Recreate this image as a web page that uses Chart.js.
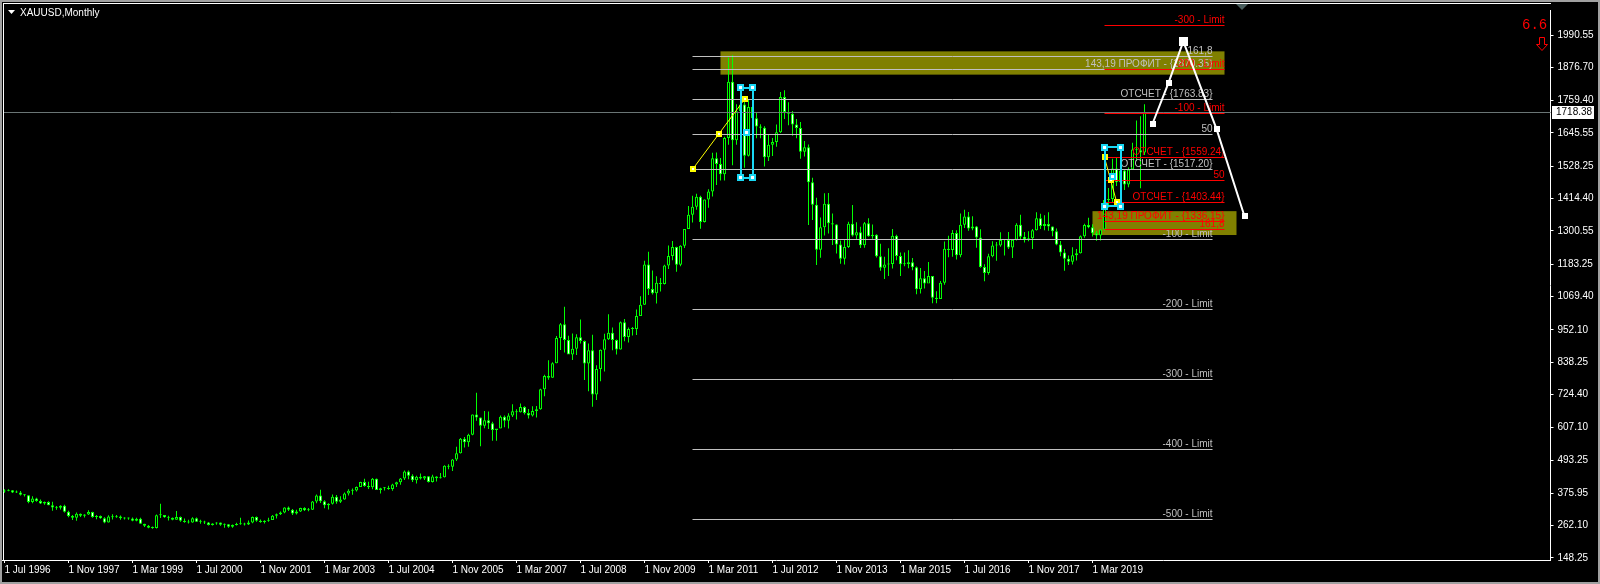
<!DOCTYPE html>
<html>
<head>
<meta charset="utf-8">
<title>XAUUSD,Monthly</title>
<script src="https://cdn.jsdelivr.net/npm/chart.js@4.4.1/dist/chart.umd.min.js"></script>
<style>
  html, body { margin: 0; padding: 0; background: #000; }
  #wrap { width: 1600px; height: 584px; }
</style>
</head>
<body>
<div id="wrap"><canvas id="chart" width="1600" height="584"></canvas></div>
<script>
// ===== monthly XAUUSD, Jul 1996 .. Apr 2020
const opens = [
  382,385,387,379,379,371,
  369,345,358,349,340,345,334,326,325,332,311,296,
  290,304,297,301,310,293,296,288,273,294,292,294,
  288,287,287,279,286,269,262,255,254,299,300,292,
  290,283,293,279,275,273,288,276,277,273,264,270,
  273,265,267,258,264,267,270,266,273,293,279,275,
  279,282,297,302,308,326,318,305,312,324,316,318,
  347,368,348,334,339,364,346,354,375,385,386,398,
  416,402,397,427,388,394,395,391,407,415,428,453,
  438,422,434,428,436,416,435,429,433,473,470,495,
  517,568,556,582,654,643,614,633,623,599,604,646,
  632,650,665,662,680,659,650,666,672,743,789,783,
  834,923,972,916,865,885,926,913,833,880,724,814,
  882,919,942,916,883,979,927,955,955,1001,1040,1182,
  1096,1081,1118,1113,1179,1212,1244,1181,1248,1307,1357,1386,
  1421,1332,1411,1439,1556,1536,1500,1628,1826,1620,1722,1746,
  1565,1737,1697,1668,1664,1560,1604,1614,1648,1772,1719,1713,
  1675,1663,1579,1595,1472,1393,1234,1313,1396,1327,1323,1253,
  1202,1244,1326,1284,1296,1250,1327,1282,1287,1211,1171,1182,
  1184,1283,1212,1183,1184,1190,1172,1095,1134,1115,1142,1065,
  1061,1118,1238,1233,1293,1215,1322,1351,1309,1316,1277,1173,
  1152,1211,1249,1249,1268,1268,1242,1269,1322,1280,1271,1275,
  1303,1345,1318,1325,1316,1299,1253,1224,1202,1192,1215,1222,
  1282,1321,1313,1292,1284,1305,1409,1413,1520,1472,1513,1464,
  1517,1587,1585,1577
];
const highs = [
  390,390,388,386,384,373,
  369,366,360,354,347,348,346,331,334,336,315,300,
  308,305,302,316,311,300,298,292,299,302,300,298,
  292,291,291,290,290,269,264,259,301,339,300,297,
  291,314,294,287,283,292,291,283,279,275,271,274,
  273,270,268,266,272,290,272,280,294,294,284,281,
  290,300,305,312,327,330,321,318,325,327,324,349,
  372,389,352,341,372,370,366,379,390,393,400,417,
  427,417,430,428,396,398,403,410,417,430,456,456,
  443,438,446,437,436,441,436,448,475,478,497,540,
  571,574,586,654,730,643,666,664,628,602,650,650,
  658,690,672,692,683,673,683,684,744,794,845,838,
  930,976,1033,931,939,936,988,914,904,935,827,883,
  938,1007,960,918,981,990,960,962,1024,1070,1195,1227,
  1161,1141,1135,1181,1249,1265,1245,1250,1307,1388,1424,1431,
  1424,1411,1447,1576,1577,1557,1632,1911,1920,1747,1804,1763,
  1764,1791,1718,1676,1669,1640,1628,1675,1790,1796,1754,1723,
  1695,1684,1617,1605,1488,1417,1348,1433,1434,1362,1324,1267,
  1269,1333,1392,1331,1315,1332,1345,1323,1289,1255,1209,1239,
  1307,1287,1224,1224,1232,1205,1175,1170,1159,1191,1142,1088,
  1124,1263,1283,1304,1303,1362,1375,1367,1352,1318,1306,1183,
  1220,1264,1261,1296,1269,1297,1270,1327,1357,1297,1299,1307,
  1366,1361,1356,1366,1316,1309,1265,1237,1214,1243,1237,1284,
  1326,1347,1324,1300,1306,1439,1452,1555,1557,1517,1515,1524,
  1611,1689,1704,1747
];
const lows = [
  378,383,377,377,368,365,
  341,341,346,338,336,334,315,318,319,308,292,282,
  279,293,291,300,290,285,286,271,273,284,290,283,
  284,283,278,278,268,257,253,251,252,289,290,280,
  281,283,276,272,270,272,275,269,268,263,263,265,
  262,255,255,255,263,265,263,264,271,276,272,270,
  276,282,287,300,306,314,300,301,310,314,313,317,
  341,342,323,319,337,339,342,353,368,371,382,399,
  399,391,390,388,375,386,389,385,398,406,423,426,
  416,411,425,423,414,414,418,428,432,461,455,490,
  516,537,540,581,632,542,605,603,561,561,605,609,
  604,645,636,661,654,640,647,643,670,718,776,783,
  834,881,872,868,846,863,904,775,736,681,705,771,
  805,916,880,865,883,912,907,932,934,1002,1040,1075,
  1076,1045,1087,1112,1166,1197,1157,1176,1240,1315,1330,1375,
  1308,1330,1382,1422,1462,1478,1478,1604,1532,1604,1667,1523,
  1563,1688,1627,1627,1527,1547,1564,1597,1645,1695,1673,1636,
  1627,1555,1563,1321,1339,1180,1206,1284,1291,1251,1221,1185,
  1182,1240,1281,1268,1240,1241,1280,1273,1207,1160,1131,1142,
  1168,1197,1142,1176,1169,1162,1077,1080,1098,1137,1046,1046,
  1062,1111,1208,1209,1200,1208,1311,1301,1303,1241,1171,1123,
  1146,1208,1195,1245,1214,1237,1205,1267,1272,1260,1264,1237,
  1302,1307,1303,1301,1282,1250,1211,1160,1180,1182,1196,1221,
  1276,1310,1281,1266,1267,1301,1382,1400,1459,1459,1445,1454,
  1517,1547,1451,1568
];
const closes = [
  385,387,379,379,371,369,
  345,358,349,340,345,334,326,325,332,311,296,290,
  304,297,301,310,293,296,288,273,294,292,294,288,
  287,287,279,286,269,262,255,254,299,300,292,290,
  283,293,279,275,273,288,276,277,273,264,270,273,
  265,267,258,264,267,270,266,273,293,279,275,279,
  282,297,302,308,326,318,305,312,324,316,318,347,
  368,348,334,339,364,346,354,375,385,386,398,416,
  402,397,427,388,394,395,391,407,415,428,453,438,
  422,434,428,436,416,435,429,433,473,470,495,517,
  568,556,582,654,643,614,633,623,599,604,646,632,
  650,665,662,680,659,650,666,672,743,789,783,834,
  923,972,916,865,885,926,913,833,880,724,814,882,
  919,942,916,883,979,927,955,955,1001,1040,1182,1096,
  1081,1118,1113,1179,1212,1244,1181,1248,1307,1357,1386,1421,
  1332,1411,1439,1556,1536,1500,1628,1826,1620,1722,1746,1565,
  1737,1697,1668,1664,1560,1604,1614,1648,1772,1719,1713,1675,
  1663,1579,1595,1472,1393,1234,1313,1396,1327,1323,1253,1202,
  1244,1326,1284,1296,1250,1327,1282,1287,1211,1171,1182,1184,
  1283,1212,1183,1184,1190,1172,1095,1134,1115,1142,1065,1061,
  1118,1238,1233,1293,1215,1322,1351,1309,1316,1277,1173,1152,
  1211,1249,1249,1268,1268,1242,1269,1322,1280,1271,1275,1303,
  1345,1318,1325,1316,1299,1253,1224,1202,1192,1215,1222,1282,
  1321,1313,1292,1284,1305,1409,1413,1520,1472,1513,1464,1517,
  1587,1585,1577,1718.38
];

const tickLabels = ['1 Jul 1996','1 Nov 1997','1 Mar 1999','1 Jul 2000','1 Nov 2001','1 Mar 2003',
  '1 Jul 2004','1 Nov 2005','1 Mar 2007','1 Jul 2008','1 Nov 2009','1 Mar 2011','1 Jul 2012',
  '1 Nov 2013','1 Mar 2015','1 Jul 2016','1 Nov 2017','1 Mar 2019'];
const priceTicks = [1990.55,1876.70,1759.40,1645.55,1528.25,1414.40,1300.55,1183.25,1069.40,
  952.10,838.25,724.40,607.10,493.25,375.95,262.10,148.25];

// ===== drawn objects (bar index, price)
const fiboWhitePrices = [1916.25,1870.35,1763.83,1640.52,1517.20,1270.57,1023.94,777.31,530.68,284.05];
const fiboWhiteTexts = ['161,8','143,19 ПРОФИТ - {1870.35}','ОТСЧЕТ - {1763.83}','50','ОТСЧЕТ - {1517.20}',
  '-100 - Limit','-200 - Limit','-300 - Limit','-400 - Limit','-500 - Limit'];
const fiboRedPrices = [2026.64,1870.84,1715.04,1559.24,1481.34,1403.44,1336.15,1307.16];
const fiboRedTexts = ['-300 - Limit','-200 - Limit','-100 - Limit','ОТСЧЕТ - {1559.24}','50',
  'ОТСЧЕТ - {1403.44}','143,19 ПРОФИТ - {1336.15}','161,8'];
const fiboWhiteSpan = [172, 302];
const fiboRedSpan = [275, 305];
const zones = [[179, 305, 1933, 1851], [272, 308, 1370, 1286]];
const boxes = [[184, 187, 1804, 1487], [275, 279, 1595, 1386]];
const yellowLines = [[[172, 1517.2], [185, 1763.83]], [[275, 1559.24], [278, 1403.44]]];
const zigzag = [[287, 1678], [291, 1822], [294.7, 1968], [303, 1660], [310, 1352]];

const monthNames = ['Jan','Feb','Mar','Apr','May','Jun','Jul','Aug','Sep','Oct','Nov','Dec'];
const categories = [];
for (let i = 0; i < 387; i++) {
  categories.push(monthNames[(6 + i) % 12] + ' ' + (1996 + Math.floor((6 + i) / 12)));
}

const wicks = closes.map((c, i) => [lows[i], highs[i]]);
const bodies = closes.map((c, i) => [Math.min(opens[i], c), Math.max(opens[i], c)]);
const bodyFill = closes.map((c, i) => c >= opens[i] ? '#000000' : '#ffffff');

const lbl = '10px "Liberation Sans", Arial, sans-serif';

function sq(c, x, y, s, fill, stroke) {
  c.fillStyle = stroke;
  c.fillRect(Math.round(x - s / 2), Math.round(y - s / 2), s, s);
  if (fill) {
    c.fillStyle = fill;
    c.fillRect(Math.round(x - s / 2) + 2, Math.round(y - s / 2) + 2, s - 4, s - 4);
  }
}

function fibo(c, xs, ys, span, prices, texts, lineCol, textCol) {
  const x1 = xs.getPixelForValue(span[0]), x2 = xs.getPixelForValue(span[1]);
  c.font = lbl;
  c.textAlign = 'right';
  c.textBaseline = 'alphabetic';
  prices.forEach((p, k) => {
    const y = Math.round(ys.getPixelForValue(p)) + 0.5;
    c.strokeStyle = lineCol;
    c.lineWidth = 1;
    c.beginPath(); c.moveTo(x1, y); c.lineTo(x2, y); c.stroke();
    c.fillStyle = textCol;
    c.fillText(texts[k], x2, y - 2.5);
  });
}

const drawings = {
  id: 'drawings',
  beforeDraw(chart) {
    const c = chart.ctx;
    c.save();
    c.fillStyle = '#000';
    c.fillRect(0, 0, chart.width, chart.height);
    c.strokeStyle = '#a0a0a0';
    c.lineWidth = 2;
    c.strokeRect(1, 1, chart.width - 2, chart.height - 2);
    c.fillStyle = '#ffffff';
    c.fillRect(3, 3, 1, 557);
    c.fillRect(3, 3, 1548, 1);
    c.restore();
  },
  beforeDatasetsDraw(chart) {
    const c = chart.ctx, xs = chart.scales.x, ys = chart.scales.y;
    c.save();
    c.fillStyle = '#808000';
    zones.forEach(z => {
      const x1 = xs.getPixelForValue(z[0]), x2 = xs.getPixelForValue(z[1]);
      const y1 = ys.getPixelForValue(z[2]), y2 = ys.getPixelForValue(z[3]);
      c.fillRect(x1, y1, x2 - x1, y2 - y1);
    });
    c.restore();
  },
  afterDatasetsDraw(chart) {
    const c = chart.ctx, xs = chart.scales.x, ys = chart.scales.y, a = chart.chartArea;
    c.save();
    // current price line
    const yc = Math.round(ys.getPixelForValue(closes[closes.length - 1])) + 0.5;
    c.strokeStyle = '#6a7575';
    c.lineWidth = 1;
    c.beginPath(); c.moveTo(4, yc); c.lineTo(a.right, yc); c.stroke();

    fibo(c, xs, ys, fiboWhiteSpan, fiboWhitePrices, fiboWhiteTexts, '#c0c0c0', '#c0c0c0');
    fibo(c, xs, ys, fiboRedSpan, fiboRedPrices, fiboRedTexts, '#ff0000', '#ff0000');

    // yellow trend lines
    yellowLines.forEach(l => {
      const p0 = [xs.getPixelForValue(l[0][0]), ys.getPixelForValue(l[0][1])];
      const p1 = [xs.getPixelForValue(l[1][0]), ys.getPixelForValue(l[1][1])];
      c.strokeStyle = '#ffff00';
      c.lineWidth = 1;
      c.beginPath(); c.moveTo(p0[0], p0[1]); c.lineTo(p1[0], p1[1]); c.stroke();
      sq(c, p0[0], p0[1], 6, '#ffffff', '#ffff00');
      sq(c, (p0[0] + p1[0]) / 2, (p0[1] + p1[1]) / 2, 6, '#ffffff', '#ffff00');
      sq(c, p1[0], p1[1], 6, '#ffffff', '#ffff00');
    });

    // cyan boxes
    boxes.forEach(b => {
      const x1 = xs.getPixelForValue(b[0]), x2 = xs.getPixelForValue(b[1]);
      const y1 = ys.getPixelForValue(b[2]), y2 = ys.getPixelForValue(b[3]);
      c.strokeStyle = '#19d8f5';
      c.lineWidth = 2;
      c.strokeRect(Math.round(x1), Math.round(y1), Math.round(x2 - x1), Math.round(y2 - y1));
      [[x1, y1], [x2, y1], [x1, y2], [x2, y2], [(x1 + x2) / 2, (y1 + y2) / 2]].forEach(p => {
        sq(c, p[0], p[1], 7, '#ffffff', '#19d8f5');
      });
    });

    // white zigzag
    c.strokeStyle = '#ffffff';
    c.lineWidth = 2;
    c.beginPath();
    zigzag.forEach((p, k) => {
      const x = xs.getPixelForValue(p[0]), y = ys.getPixelForValue(p[1]);
      if (k === 0) c.moveTo(x, y); else c.lineTo(x, y);
    });
    c.stroke();
    zigzag.forEach((p, k) => {
      const x = xs.getPixelForValue(p[0]), y = ys.getPixelForValue(p[1]);
      sq(c, x, y, k === 2 ? 9 : 6, null, '#ffffff');
    });
    c.restore();
  },
  afterDraw(chart) {
    const c = chart.ctx, ys = chart.scales.y, a = chart.chartArea;
    c.save();
    // title
    c.fillStyle = '#ffffff';
    c.beginPath(); c.moveTo(8, 10); c.lineTo(15, 10); c.lineTo(11.5, 14); c.closePath(); c.fill();
    c.font = lbl;
    c.textAlign = 'left';
    c.textBaseline = 'alphabetic';
    c.fillText('XAUUSD,Monthly', 20, 16);
    // chart shift marker
    c.fillStyle = '#4a5e5e';
    c.beginPath(); c.moveTo(1236, 4); c.lineTo(1248, 4); c.lineTo(1242, 10); c.closePath(); c.fill();
    // current price tag
    const last = closes[closes.length - 1];
    const yc = Math.round(ys.getPixelForValue(last));
    c.fillStyle = '#ffffff';
    c.fillRect(Math.ceil(a.right) + 1, yc - 6, 42, 13);
    c.fillStyle = '#000000';
    c.textBaseline = 'middle';
    c.fillText(last.toFixed(2), Math.ceil(a.right) + 5, yc + 0.5);
    // signal text and arrow
    c.fillStyle = '#ff0000';
    c.font = '14px "Liberation Mono", monospace';
    c.textBaseline = 'alphabetic';
    c.fillText('6.6', 1522, 29);
    c.strokeStyle = '#ff0000';
    c.lineWidth = 1;
    c.beginPath();
    c.moveTo(1539.5, 37.5); c.lineTo(1544.5, 37.5); c.lineTo(1544.5, 44.5); c.lineTo(1547.5, 44.5);
    c.lineTo(1542, 50.5); c.lineTo(1536.5, 44.5); c.lineTo(1539.5, 44.5); c.closePath();
    c.stroke();
    c.restore();
  }
};

new Chart(document.getElementById('chart'), {
  type: 'bar',
  data: {
    labels: categories,
    datasets: [
      {
        data: bodies, order: 0, grouped: false, barThickness: 3, minBarLength: 1,
        backgroundColor: bodyFill, borderColor: '#00ff00', borderWidth: 1,
        borderSkipped: false, inflateAmount: 0
      },
      {
        data: wicks, order: 1, grouped: false, barThickness: 1,
        backgroundColor: '#00ff00', borderWidth: 0, inflateAmount: 0
      }
    ]
  },
  options: {
    responsive: false,
    animation: false,
    events: [],
    layout: { padding: { left: 2.5, top: 4, right: 0, bottom: 0 } },
    plugins: { legend: { display: false }, tooltip: { enabled: false } },
    scales: {
      x: {
        offset: true,
        grid: { drawOnChartArea: false, drawTicks: true, tickLength: 3, color: '#ffffff', offset: false },
        border: { color: '#ffffff' },
        ticks: {
          autoSkip: false, maxRotation: 0, minRotation: 0, align: 'start', padding: 1,
          color: '#ffffff', font: { family: '"Liberation Sans", Arial, sans-serif', size: 10 },
          callback: v => tickLabels[v / 16]
        },
        afterBuildTicks: s => { s.ticks = s.ticks.filter(t => t.value % 16 === 0 && t.value < closes.length); },
        afterFit: s => { s.height = 24; }
      },
      y: {
        position: 'right',
        min: 141.1,
        max: 2078.7,
        grid: { drawOnChartArea: false, drawTicks: true, tickLength: 3, color: '#ffffff' },
        border: { color: '#ffffff' },
        ticks: {
          autoSkip: false, padding: 4, color: '#ffffff',
          font: { family: '"Liberation Sans", Arial, sans-serif', size: 10 },
          callback: v => v.toFixed(2)
        },
        afterBuildTicks: s => { s.ticks = priceTicks.map(v => ({ value: v })); },
        afterFit: s => { s.width = 49.5; }
      }
    }
  },
  plugins: [drawings]
});
</script>
</body>
</html>
